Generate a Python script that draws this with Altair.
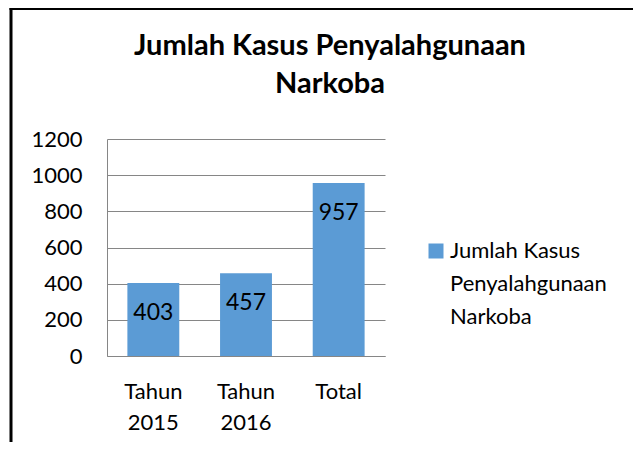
import altair as alt
import pandas as pd

categories = ["Tahun 2015", "Tahun 2016", "Total"]
values = [403, 457, 957]
series_name = "Jumlah Kasus Penyalahgunaan Narkoba"
y_ticks = [0, 200, 400, 600, 800, 1000, 1200]
title_lines = ["Jumlah Kasus Penyalahgunaan", "Narkoba"]

df = pd.DataFrame({"cat": categories, "val": values, "series": [series_name] * len(categories)})

FONT = "Lato"
BLUE = "#5B9BD5"
GRID = "#868686"

base = alt.Chart(df)

x_scale = alt.Scale(paddingInner=0.44, paddingOuter=0.22)
y_scale = alt.Scale(domain=[0, 1200])

x_enc = alt.X(
    "cat:N", sort=categories, title=None, scale=x_scale,
    axis=alt.Axis(labelExpr="split(datum.label, ' ')", labelAngle=0, labelFontSize=22,
                  labelLineHeight=31, labelPadding=25, ticks=False, domainColor=GRID,
                  domainWidth=1, labelColor="black", labelFont=FONT, grid=False,
                  labelBaseline="top"),
)
y_enc = alt.Y(
    "val:Q", title=None, scale=y_scale,
    axis=alt.Axis(values=y_ticks, format="d", labelFontSize=22, labelFont=FONT,
                  labelColor="black", labelLineHeight=22, labelOverlap=False,
                  labelPadding=25, ticks=False, domainColor=GRID, gridColor=GRID,
                  grid=True, gridWidth=1),
)

bars = base.mark_bar(color=BLUE).encode(
    x=x_enc, y=y_enc,
    color=alt.Color(
        "series:N", scale=alt.Scale(range=[BLUE]),
        legend=alt.Legend(
            title=None, orient="none", legendX=318, legendY=101, padding=0,
            symbolType="square", symbolSize=225, symbolStrokeWidth=0,
            symbolFillColor=BLUE, labelFont=FONT, labelFontSize=22,
            labelColor="black", labelBaseline="middle", labelOffset=3, labelLimit=400,
            labelExpr="[slice(datum.label, 0, 12), slice(datum.label, 13, 27), slice(datum.label, 28)]",
        ),
    ),
)

labels = base.mark_text(baseline="middle", dy=30, fontSize=23, font=FONT, color="black").encode(
    x=alt.X("cat:N", sort=categories, scale=x_scale, axis=None),
    y=alt.Y("val:Q", scale=y_scale, axis=None),
    text="val:Q",
)

frame_data = alt.Data(values=[{"k": 1}])
left_line = alt.Chart(frame_data).mark_rule(color="black", strokeWidth=3).encode(
    x=alt.value(-96), y=alt.value(-131), y2=alt.value(330)
)
top_line = alt.Chart(frame_data).mark_rule(color="black", strokeWidth=2).encode(
    x=alt.value(-97.5), x2=alt.value(560), y=alt.value(-130)
)

chart = (
    alt.layer(bars, labels, left_line, top_line)
    .resolve_axis(x="independent", y="independent")
    .properties(
        width=278, height=217,
        autosize=alt.AutoSizeParams(type="none"),
        padding={"left": 99, "top": 131, "right": 248, "bottom": 86},
        background="white",
        title=alt.TitleParams(
            text=title_lines, font=FONT, fontSize=29, fontWeight="bold", anchor="middle",
            frame="group", dx=84, offset=-121, lineHeight=38, color="black", baseline="bottom",
        ),
    )
    .configure(view={"stroke": "transparent", "strokeWidth": 0},
               style={"guide-label": {"lineHeight": 33}, "cell": {"stroke": "transparent"}})
)

chart.save("out.html", embed_options={"renderer": "svg", "actions": False})
